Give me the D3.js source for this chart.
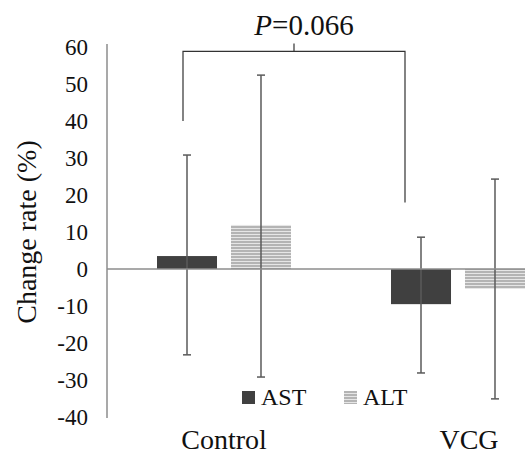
<!DOCTYPE html>
<html>
<head>
<meta charset="utf-8">
<script src="https://cdn.jsdelivr.net/npm/d3@7"></script>
<style>
  body { margin: 0; background: #fff; }
  svg text { font-family: 'Liberation Serif', Tinos, 'Times New Roman', 'DejaVu Serif', serif; }
</style>
</head>
<body>
<div id="vis"></div>
<script>
// data
const groups = ['Control', 'VCG'];
const markers = ['AST', 'ALT'];
const means = { Control: [3.5, 11.9], VCG: [-9.5, -5.4] };
const upper = { Control: [30.8, 52.4], VCG: [8.6, 24.3] };
const lower = { Control: [-23.2, -29.2], VCG: [-28.1, -35.1] };
const yTicks = [-40, -30, -20, -10, 0, 10, 20, 30, 40, 50, 60];
const pLabel = '0.066';
const bracketLevels = [58.8, 40, 18]; // top, left foot, right foot

let width = 525, height = 456;
const serif = "'Liberation Serif', Tinos, 'Times New Roman', 'DejaVu Serif', serif";

let svg = d3.select('#vis')
  .append('svg')
    .attr('width', width)
    .attr('height', height);

// patterns: ALT uses horizontal stripes
let defs = svg.append('defs');
let pat = defs.append('pattern')
  .attr('id', 'stripes')
  .attr('patternUnits', 'userSpaceOnUse')
  .attr('width', 8)
  .attr('height', 3);
pat.append('rect').attr('width', 8).attr('height', 3).attr('fill', '#b4b4b4');
pat.append('rect').attr('y', 0).attr('width', 8).attr('height', 1).attr('fill', '#e6e6e6');

let xScale = d3.scaleBand()
  .domain(groups)
  .range([107, 107 + 2 * 234]);

let xSub = d3.scaleBand()
  .domain(markers)
  .range([-67, 67])
  .paddingInner(0.189);

let yScale = d3.scaleLinear()
  .domain([-40, 60])
  .range([417, 47]);

const fill = d3.scaleOrdinal()
  .domain(markers)
  .range(['#404040', 'url(#stripes)']);

// y axis (no ticks, just labels)
let yAxis = svg.append('g')
  .attr('transform', 'translate(107,0)')
  .call(d3.axisLeft(yScale).tickValues(yTicks).tickSize(0).tickPadding(19).tickFormat(d => String(d)));
yAxis.attr('font-family', null).attr('font-size', null);
yAxis.select('.domain').remove();
yAxis.selectAll('text')
  .style('font-size', '23px')
  .style('font-family', serif)
  .attr('fill', '#111');

// y axis title
svg.append('text')
  .attr('transform', 'translate(36,' + yScale(10) + ') rotate(-90)')
  .attr('text-anchor', 'middle')
  .style('font-family', serif)
  .style('font-size', '28px')
  .attr('fill', '#111')
  .text('Change rate (%)');

// bars
let rows = [];
groups.forEach(g => markers.forEach((m, i) => rows.push({
  group: g, key: m, value: means[g][i], hi: upper[g][i], lo: lower[g][i]
})));

let cx = d => xScale(d.group) + xScale.bandwidth() / 2 + xSub(d.key);

svg.append('g').selectAll('rect')
  .data(rows)
  .enter().append('rect')
    .attr('x', d => cx(d))
    .attr('y', d => yScale(Math.max(0, d.value)))
    .attr('width', xSub.bandwidth())
    .attr('height', d => Math.abs(yScale(d.value) - yScale(0)))
    .attr('fill', d => fill(d.key));

// error bars
let err = svg.append('g')
  .attr('stroke', '#5a5a5a')
  .attr('stroke-width', 1.5);
rows.forEach(d => {
  let x = cx(d) + xSub.bandwidth() / 2;
  err.append('line').attr('x1', x).attr('x2', x).attr('y1', yScale(d.hi)).attr('y2', yScale(d.lo));
  err.append('line').attr('x1', x - 4).attr('x2', x + 4).attr('y1', yScale(d.hi)).attr('y2', yScale(d.hi));
  err.append('line').attr('x1', x - 4).attr('x2', x + 4).attr('y1', yScale(d.lo)).attr('y2', yScale(d.lo));
});

// axis lines
svg.append('line')
  .attr('x1', 107).attr('x2', 107)
  .attr('y1', yScale(60) - 3).attr('y2', yScale(-40) + 1)
  .attr('stroke', '#8c8c8c').attr('stroke-width', 1.5);
svg.append('line')
  .attr('x1', 107).attr('x2', width)
  .attr('y1', yScale(0)).attr('y2', yScale(0))
  .attr('stroke', '#8c8c8c').attr('stroke-width', 1.5);

// category labels
svg.append('g').selectAll('text')
  .data(groups)
  .enter().append('text')
    .attr('x', d => xScale(d) + xScale.bandwidth() / 2)
    .attr('dx', (d, i) => i === 1 ? 11 : 0)
    .attr('y', 449)
    .attr('text-anchor', 'middle')
    .style('font-family', serif)
    .style('font-size', '28px')
    .attr('fill', '#111')
    .text(d => d);

// legend
let legend = svg.append('g');
let legX = [242, 344];
markers.forEach((m, i) => {
  legend.append('rect')
    .attr('x', legX[i]).attr('y', 391)
    .attr('width', 13).attr('height', 13)
    .attr('fill', fill(m));
  legend.append('text')
    .attr('x', legX[i] + 19).attr('y', 405)
    .style('font-family', serif)
    .style('font-size', '24px')
    .attr('fill', '#111')
    .text(m);
});

// significance bracket
let bx1 = xScale('Control') + xScale.bandwidth() / 2 - 41;
let bx2 = xScale('VCG') + xScale.bandwidth() / 2 - 53;
let bmid = (bx1 + bx2) / 2;
let bracket = svg.append('g')
  .attr('stroke', '#333')
  .attr('stroke-width', 1.2)
  .attr('fill', 'none');
bracket.append('path')
  .attr('d', d3.line()([
    [bx1, yScale(bracketLevels[1])],
    [bx1, yScale(bracketLevels[0])],
    [bx2, yScale(bracketLevels[0])],
    [bx2, yScale(bracketLevels[2])]
  ]));
bracket.append('line')
  .attr('x1', bmid).attr('x2', bmid)
  .attr('y1', yScale(bracketLevels[0])).attr('y2', yScale(bracketLevels[0]) - 8);

let pText = svg.append('text')
  .attr('x', bmid + 10)
  .attr('y', 35)
  .attr('text-anchor', 'middle')
  .style('font-family', serif)
  .style('font-size', '29px')
  .attr('fill', '#111');
pText.append('tspan').style('font-style', 'italic').text('P');
pText.append('tspan').text('=' + pLabel);
</script>
</body>
</html>
